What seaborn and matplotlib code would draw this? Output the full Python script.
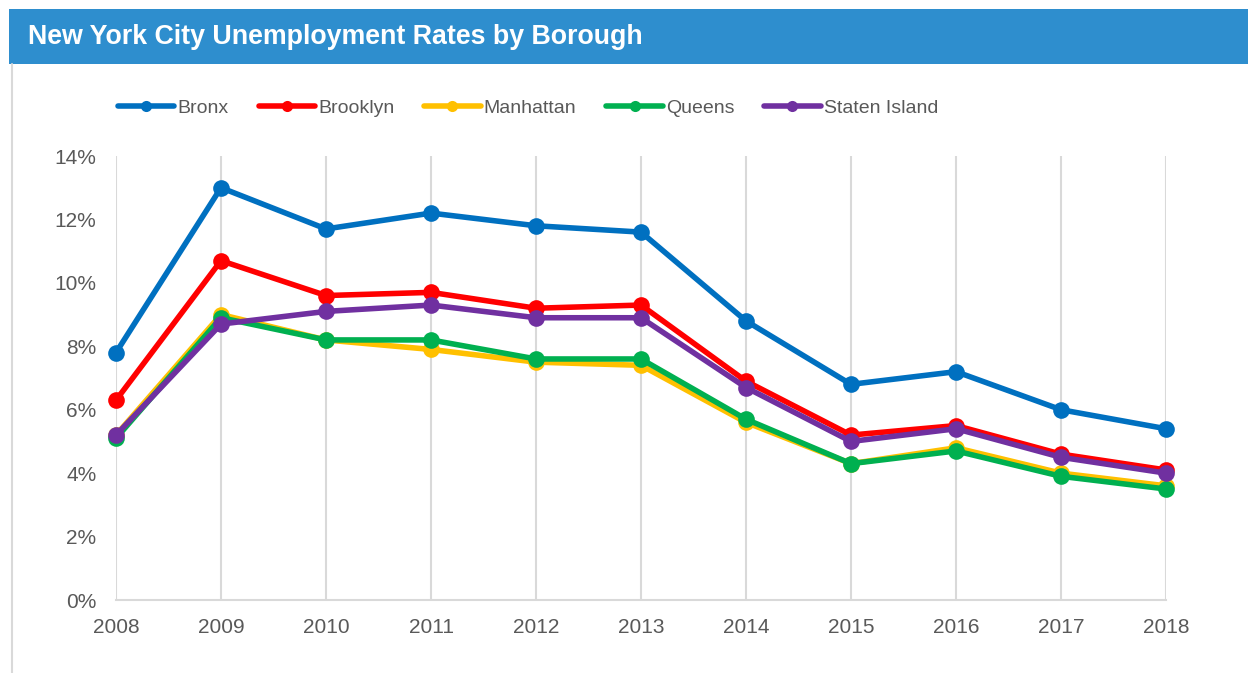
import matplotlib
matplotlib.use("Agg")
import matplotlib.pyplot as plt
import seaborn as sns
import pandas as pd
from matplotlib.patches import Rectangle
from matplotlib.lines import Line2D
from matplotlib.ticker import FuncFormatter

years = [2008, 2009, 2010, 2011, 2012, 2013, 2014, 2015, 2016, 2017, 2018]
bronx = [7.8, 13.0, 11.7, 12.2, 11.8, 11.6, 8.8, 6.8, 7.2, 6.0, 5.4]
brooklyn = [6.3, 10.7, 9.6, 9.7, 9.2, 9.3, 6.9, 5.2, 5.5, 4.6, 4.1]
manhattan = [5.2, 9.0, 8.2, 7.9, 7.5, 7.4, 5.6, 4.3, 4.8, 4.0, 3.6]
queens = [5.1, 8.9, 8.2, 8.2, 7.6, 7.6, 5.7, 4.3, 4.7, 3.9, 3.5]
staten_island = [5.2, 8.7, 9.1, 9.3, 8.9, 8.9, 6.7, 5.0, 5.4, 4.5, 4.0]

boroughs = ["Bronx", "Brooklyn", "Manhattan", "Queens", "Staten Island"]
colors = ["#0070C0", "#FF0000", "#FFC000", "#00B050", "#7030A0"]
title = "New York City Unemployment Rates by Borough"

series = [bronx, brooklyn, manhattan, queens, staten_island]
df = pd.concat([pd.DataFrame({"Year": years, "Rate": vals, "Borough": name})
                for name, vals in zip(boroughs, series)], ignore_index=True)

sns.set_style("white")
plt.rcParams["font.family"] = ["Liberation Sans", "DejaVu Sans"]

fig = plt.figure(figsize=(12.48, 6.73), dpi=100)
W, H = 1248, 673

# title bar
fig.patches.append(Rectangle((9 / W, 1 - 64 / H), 1 - 9 / W, 55 / H,
                             transform=fig.transFigure, facecolor="#2E8ECE",
                             edgecolor="none", zorder=0))
fig.text(28 / W, 1 - 37 / H, title, color="white", fontsize=19.3,
         fontweight="bold", va="center", ha="left")
# left border of panel
fig.lines.append(Line2D([12 / W, 12 / W], [0, 1 - 64 / H], transform=fig.transFigure,
                        color="#D9D9D9", linewidth=1.5))

ax = fig.add_axes([116 / W, 1 - 600 / H, (1166 - 116) / W, (600 - 156) / H])
palette = dict(zip(boroughs, colors))
sns.lineplot(data=df, x="Year", y="Rate", hue="Borough", hue_order=boroughs,
             palette=palette, marker="o", markersize=12, markeredgewidth=0,
             linewidth=4, ax=ax, legend=False)
for ln in ax.lines:
    ln.set_clip_on(False)

ax.set_xlim(2008, 2018)
ax.set_ylim(0, 14)
ax.set_xticks(years)
ax.set_yticks(range(0, 15, 2))
ax.yaxis.set_major_formatter(FuncFormatter(lambda v, p: f"{int(v)}%"))
ax.set_xlabel("")
ax.set_ylabel("")
ax.grid(axis="x", color="#D9D9D9", linewidth=1.5)
ax.grid(axis="y", visible=False)
ax.set_axisbelow(True)
for s in ["top", "right", "left"]:
    ax.spines[s].set_visible(False)
ax.spines["bottom"].set_color("#D9D9D9")
ax.spines["bottom"].set_linewidth(1.5)
ax.tick_params(axis="both", length=0, labelsize=15, labelcolor="#595959")
ax.tick_params(axis="x", pad=13)
ax.tick_params(axis="y", pad=14)

handles = [Line2D([0], [0], color=c, linewidth=4, marker="o", markersize=8,
                  markeredgewidth=0) for c in colors]
leg = fig.legend(handles, boroughs, loc="center left",
                 bbox_to_anchor=(118 / W, 1 - 108 / H), ncol=5, frameon=False,
                 fontsize=14, handlelength=2.9, handletextpad=0.15,
                 columnspacing=1.55, borderpad=0, borderaxespad=0,
                 labelcolor="#595959")

fig.savefig("out.png", dpi=100, facecolor="white")
